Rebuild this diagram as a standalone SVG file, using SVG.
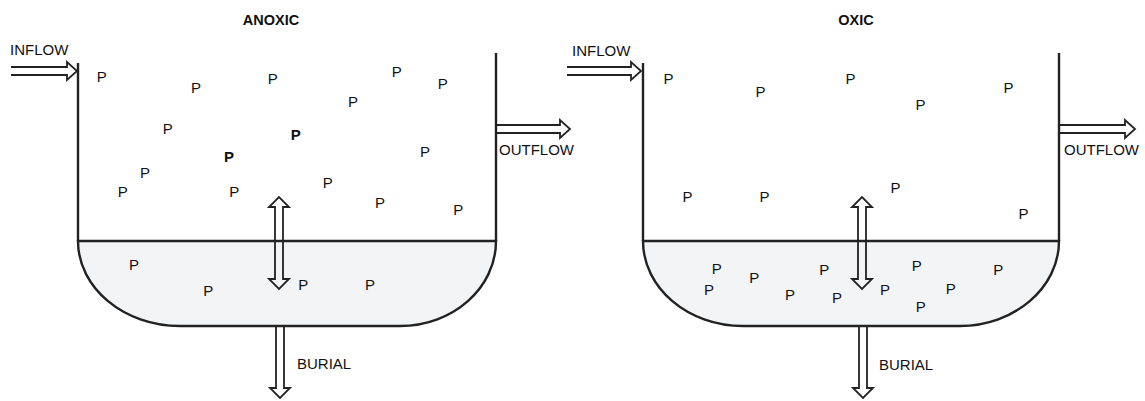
<svg xmlns="http://www.w3.org/2000/svg" width="1145" height="401" viewBox="0 0 1145 401">
<style>
.wall{fill:none;stroke:#222;stroke-width:2.4;stroke-linecap:butt}
.sed{fill:#f3f4f6;stroke:#222;stroke-width:2.4}
.arr{fill:none;stroke:#222;stroke-width:1.8;stroke-linejoin:miter}
text{font-family:"Liberation Sans",Arial,sans-serif;font-size:15px;fill:#111}
.title{font-weight:bold;font-size:14.5px;text-anchor:middle}
.b{font-weight:bold}
</style>
<rect width="1145" height="401" fill="#fff"/>

<g id="anoxic-tank">
  <path class="sed" d="M78,241 L496,241 C496,288 453,326 400,326 L180,326 C124,326 78,288 78,241 Z"/>
  <path class="wall" d="M78,63 L78,241"/>
  <path class="wall" d="M496,53 L496,241"/>
  <text class="title" x="271" y="25">ANOXIC</text>
</g>

<g id="oxic-tank">
  <path class="sed" d="M643,241 L1059,241 C1059,288 1014,326 960,326 L743,326 C688,326 643,288 643,241 Z"/>
  <path class="wall" d="M643,63 L643,241"/>
  <path class="wall" d="M1059,53 L1059,241"/>
  <text class="title" x="856" y="25">OXIC</text>
</g>

<g id="connectors">
  <!-- anoxic inflow -->
  <path class="arr" d="M11,67 L67,67 L67,62 L77,71 L67,80 L67,75 L11,75"/>
  <!-- anoxic outflow -->
  <path class="arr" d="M497,125 L560,125 L560,120 L570,129 L560,138 L560,133 L497,133"/>
  <!-- anoxic exchange -->
  <path class="arr" d="M275,207 L275,279 L269,279 L279,289 L289,279 L283,279 L283,207 L289,207 L279,197 L269,207 Z"/>
  <!-- anoxic burial -->
  <path class="arr" d="M276,327 L276,388 L270,388 L280,398 L290,388 L284,388 L284,327"/>
  <!-- oxic inflow -->
  <path class="arr" d="M567,67 L631,67 L631,62 L641,71 L631,80 L631,75 L567,75"/>
  <!-- oxic outflow -->
  <path class="arr" d="M1060,125 L1125,125 L1125,120 L1135,129 L1125,138 L1125,133 L1060,133"/>
  <!-- oxic exchange -->
  <path class="arr" d="M858,207 L858,279 L852,279 L862,289 L872,279 L866,279 L866,207 L872,207 L862,197 L852,207 Z"/>
  <!-- oxic burial -->
  <path class="arr" d="M859,327 L859,388 L853,388 L863,398 L873,388 L867,388 L867,327"/>
</g>

<g id="labels">
  <text x="10" y="55">INFLOW</text>
  <text x="499" y="155">OUTFLOW</text>
  <text x="297" y="369">BURIAL</text>
  <text x="572" y="56">INFLOW</text>
  <text x="1064" y="155">OUTFLOW</text>
  <text x="879" y="370">BURIAL</text>
</g>

<g id="anoxic-p">
  <text x="96.7" y="81.7">P</text>
  <text x="191" y="93.3">P</text>
  <text x="267.7" y="84">P</text>
  <text x="391.7" y="77.3">P</text>
  <text x="437.7" y="89.3">P</text>
  <text x="348" y="106.7">P</text>
  <text x="162.7" y="134">P</text>
  <text class="b" x="290.7" y="140">P</text>
  <text x="420" y="157.3">P</text>
  <text class="b" x="224" y="161.7">P</text>
  <text x="140" y="178.3">P</text>
  <text x="117.7" y="197.3">P</text>
  <text x="229.3" y="197.3">P</text>
  <text x="322.7" y="188.3">P</text>
  <text x="375" y="208.3">P</text>
  <text x="453.3" y="215">P</text>
  <text x="129" y="270">P</text>
  <text x="203.3" y="296">P</text>
  <text x="298.3" y="290">P</text>
  <text x="365" y="290">P</text>
</g>

<g id="oxic-p">
  <text x="663.5" y="83.5">P</text>
  <text x="755.5" y="96.5">P</text>
  <text x="845.5" y="83.5">P</text>
  <text x="915.5" y="109.5">P</text>
  <text x="1003.5" y="92.5">P</text>
  <text x="682.5" y="201.5">P</text>
  <text x="759.5" y="201.5">P</text>
  <text x="890.5" y="192.5">P</text>
  <text x="1018.5" y="218.5">P</text>
  <text x="711.7" y="274">P</text>
  <text x="704" y="295">P</text>
  <text x="749.3" y="283.3">P</text>
  <text x="819.3" y="275">P</text>
  <text x="785" y="300">P</text>
  <text x="832" y="303">P</text>
  <text x="880" y="295">P</text>
  <text x="911.7" y="271">P</text>
  <text x="915.7" y="311.7">P</text>
  <text x="945.7" y="294.3">P</text>
  <text x="993.3" y="275">P</text>
</g>
</svg>
